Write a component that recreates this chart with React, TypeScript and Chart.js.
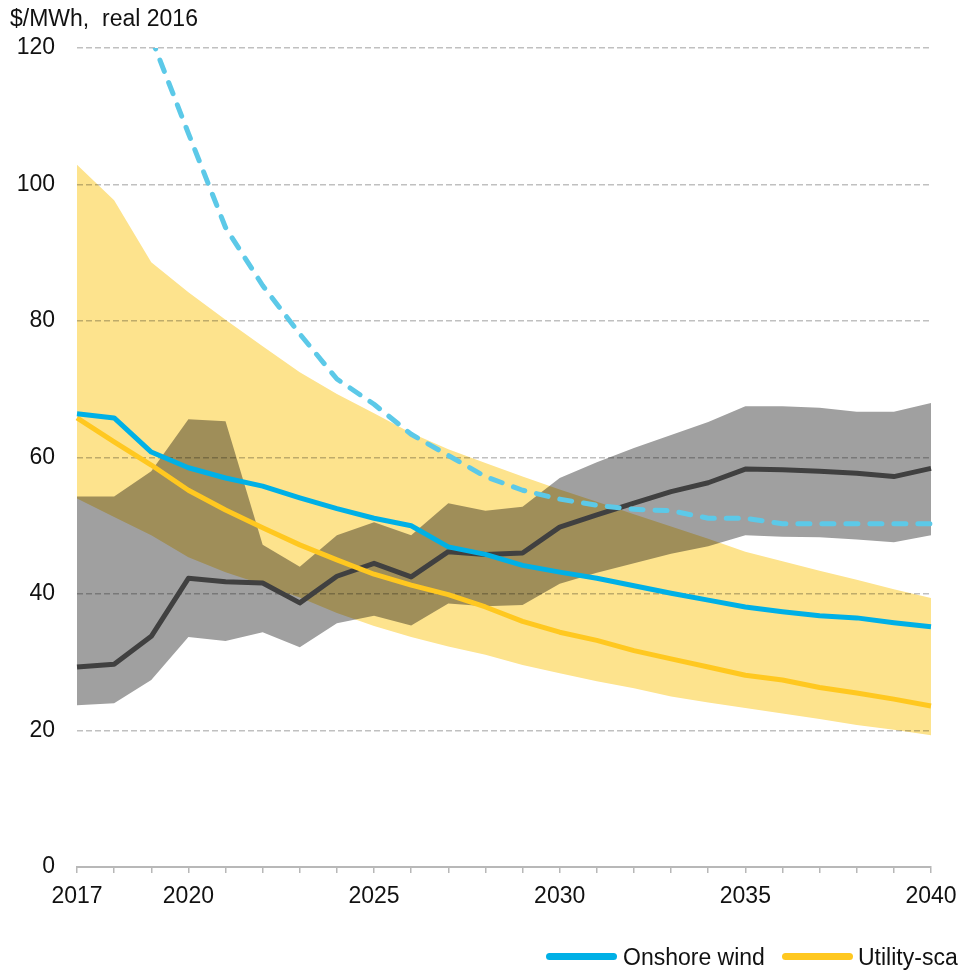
import React, { useEffect, useRef } from 'react';
import { Chart, registerables } from 'chart.js';

// Multiply blending for the range bands (so overlaps turn olive and gridlines show through)
const multiplyBands = {
  id: 'multiplyBands',
  beforeDatasetDraw(chart: any, args: any) {
    const ds: any = chart.data.datasets[args.index];
    if (ds && ds.multiply) {
      chart.ctx.save();
      chart.ctx.globalCompositeOperation = 'multiply';
    }
  },
  afterDatasetDraw(chart: any, args: any) {
    const ds: any = chart.data.datasets[args.index];
    if (ds && ds.multiply) chart.ctx.restore();
  },
};
Chart.register(multiplyBands);
Chart.register(...registerables);

const years = [
  2017, 2018, 2019, 2020, 2021, 2022, 2023, 2024, 2025, 2026, 2027, 2028,
  2029, 2030, 2031, 2032, 2033, 2034, 2035, 2036, 2037, 2038, 2039, 2040,
];
const labeledYears = [2017, 2020, 2025, 2030, 2035, 2040];

const onshoreWind = [
  66.4, 65.8, 60.8, 58.5, 57.0, 55.8, 54.1, 52.5, 51.1, 50.0, 46.9, 45.8,
  44.2, 43.2, 42.3, 41.2, 40.1, 39.1, 38.1, 37.4, 36.8, 36.5, 35.8, 35.2,
];
const utilityPV = [
  65.8, 62.3, 58.9, 55.2, 52.3, 49.7, 47.2, 45.0, 42.9, 41.3, 39.9, 38.1,
  36.0, 34.4, 33.2, 31.7, 30.5, 29.3, 28.1, 27.4, 26.3, 25.5, 24.6, 23.6,
];
const offshoreWind = [
  null, null, 121.5, 107.5, 93.7, 85.2, 78.1, 71.5, 67.8, 63.4, 60.3, 57.2,
  55.2, 53.9, 53.0, 52.4, 52.2, 51.1, 51.1, 50.3, 50.3, 50.3, 50.3, 50.3,
];
const gasLine = [
  29.3, 29.7, 33.8, 42.3, 41.8, 41.6, 38.7, 42.6, 44.5, 42.5, 46.2, 45.8,
  46.0, 49.8, 51.6, 53.3, 55.0, 56.3, 58.3, 58.2, 58.0, 57.7, 57.2, 58.4,
];
const grayUpper = [
  54.3, 54.3, 58.0, 65.6, 65.3, 47.2, 44.0, 48.6, 50.5, 48.6, 53.3, 52.2,
  52.8, 57.0, 59.3, 61.4, 63.3, 65.2, 67.5, 67.5, 67.3, 66.7, 66.7, 68.0,
];
const grayLower = [
  23.7, 24.0, 27.4, 33.7, 33.1, 34.4, 32.2, 35.7, 36.8, 35.4, 38.6, 38.2,
  38.4, 41.5, 43.1, 44.5, 45.9, 47.0, 48.6, 48.4, 48.3, 48.0, 47.6, 48.6,
];
const yellowUpper = [
  102.9, 97.7, 88.6, 84.2, 80.2, 76.3, 72.5, 69.3, 66.5, 63.6, 61.2, 59.2,
  57.2, 55.3, 53.5, 51.7, 49.9, 48.1, 46.2, 44.8, 43.4, 42.1, 40.7, 39.4,
];
const yellowLower = [
  54.0, 51.3, 48.6, 45.4, 43.2, 41.4, 39.5, 37.2, 35.3, 33.7, 32.3, 31.1,
  29.6, 28.4, 27.2, 26.2, 25.0, 24.1, 23.3, 22.5, 21.7, 20.8, 20.1, 19.3,
];

const FONT = '"Liberation Sans", Arial, Helvetica, sans-serif';
const BLUE = '#00B0E6';
const YELLOW = '#FFC820';
const DASH_BLUE = '#5CC9E8';
const DARK = '#404040';

export default function App() {
  const canvasRef = useRef<HTMLCanvasElement | null>(null);

  useEffect(() => {
    if (!canvasRef.current) return;
    const font = { family: FONT, size: 23 };
    const chart = new Chart(canvasRef.current, {
      type: 'line',
      data: {
        labels: years.map(String),
        datasets: [
          {
            label: 'Onshore wind',
            data: onshoreWind,
            borderColor: BLUE,
            borderWidth: 5,
            pointRadius: 0,
            fill: false,
            borderJoinStyle: 'round',
            order: 0,
          },
          {
            label: 'Utility-scale PV',
            data: utilityPV,
            borderColor: YELLOW,
            borderWidth: 5,
            pointRadius: 0,
            fill: false,
            borderJoinStyle: 'round',
            order: 1,
          },
          {
            label: 'Offshore wind',
            data: offshoreWind,
            borderColor: DASH_BLUE,
            borderWidth: 5,
            borderDash: [12, 12],
            borderCapStyle: 'round',
            borderJoinStyle: 'round',
            pointRadius: 0,
            fill: false,
            clip: { left: 5, top: 0, right: 5, bottom: 5 },
            order: 2,
          },
          {
            label: 'Gas',
            data: gasLine,
            borderColor: DARK,
            borderWidth: 5,
            pointRadius: 0,
            fill: false,
            borderJoinStyle: 'round',
            order: 3,
          },
          {
            label: 'Gas range high',
            data: grayUpper,
            borderWidth: 0,
            pointRadius: 0,
            backgroundColor: '#A0A0A0',
            fill: '+1',
            multiply: true,
            order: 4,
          } as any,
          {
            label: 'Gas range low',
            data: grayLower,
            borderWidth: 0,
            pointRadius: 0,
            fill: false,
            order: 5,
          },
          {
            label: 'PV range high',
            data: yellowUpper,
            borderWidth: 0,
            pointRadius: 0,
            backgroundColor: '#FDE38D',
            fill: '+1',
            multiply: true,
            order: 6,
          } as any,
          {
            label: 'PV range low',
            data: yellowLower,
            borderWidth: 0,
            pointRadius: 0,
            fill: false,
            order: 7,
          },
        ],
      },
      options: {
        responsive: false,
        animation: false,
        devicePixelRatio: 1,
        layout: { padding: { top: 48, right: 28, left: 0, bottom: 0 } },
        plugins: {
          legend: { display: false },
          title: { display: false },
          tooltip: { enabled: false },
        },
        elements: { line: { tension: 0 } },
        scales: {
          x: {
            type: 'category',
            offset: false,
            grid: {
              display: true,
              drawOnChartArea: false,
              drawTicks: true,
              tickLength: 6,
              color: '#b8b8b8',
              lineWidth: 1.5,
            },
            border: { display: true, color: '#b8b8b8', width: 2 },
            ticks: {
              autoSkip: false,
              maxRotation: 0,
              minRotation: 0,
              padding: 10,
              color: '#111',
              font,
              callback: (_v: any, idx: number) =>
                labeledYears.includes(years[idx]) ? String(years[idx]) : '',
            },
            afterFit: (scale: any) => {
              scale.height = 103;
              scale.paddingLeft = 0;
              scale.paddingRight = 0;
            },
          },
          y: {
            min: 0,
            max: 120,
            ticks: { stepSize: 20, padding: 22, color: '#111', font },
            grid: {
              drawTicks: false,
              color: (ctx: any) =>
                ctx.tick && ctx.tick.value === 0 ? 'rgba(0,0,0,0)' : '#c0c0c0',
              lineWidth: 1.5,
            },
            border: { display: false, dash: [6, 3] },
            afterFit: (scale: any) => {
              scale.width = 77;
            },
          },
        },
      } as any,
    });
    return () => chart.destroy();
  }, []);

  const textStyle: React.CSSProperties = {
    position: 'absolute',
    fontFamily: FONT,
    fontSize: 23,
    lineHeight: '26px',
    color: '#111',
    whiteSpace: 'pre',
  };

  return (
    <div
      style={{
        position: 'absolute',
        left: 0,
        top: 0,
        width: 959,
        height: 970,
        overflow: 'hidden',
        background: '#fff',
      }}
    >
      <canvas ref={canvasRef} width={959} height={970} style={{ display: 'block' }} />
      <div style={{ ...textStyle, left: 10, top: 5 }}>{'$/MWh,  real 2016'}</div>
      <div
        style={{
          position: 'absolute',
          left: 546,
          top: 953,
          width: 71,
          height: 7,
          borderRadius: 3.5,
          background: BLUE,
        }}
      />
      <div style={{ ...textStyle, left: 623, top: 944 }}>Onshore wind</div>
      <div
        style={{
          position: 'absolute',
          left: 782,
          top: 953,
          width: 71,
          height: 7,
          borderRadius: 3.5,
          background: YELLOW,
        }}
      />
      <div style={{ ...textStyle, left: 858, top: 944 }}>Utility-scale PV</div>
    </div>
  );
}
